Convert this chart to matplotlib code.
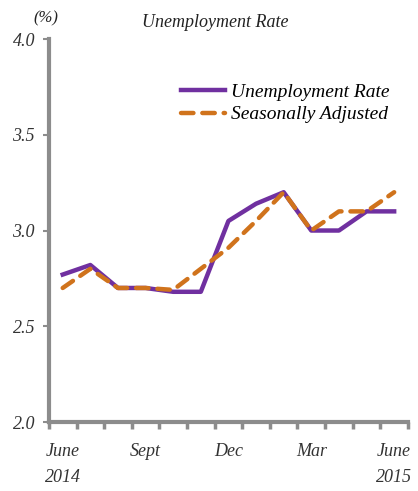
import numpy as np
import matplotlib.pyplot as plt

plt.rcParams['font.family'] = ['Liberation Serif', 'DejaVu Serif']

months = ['June\n2014', 'Jul', 'Aug', 'Sept', 'Oct', 'Nov', 'Dec',
          'Jan', 'Feb', 'Mar', 'Apr', 'May', 'June\n2015']
unemployment = [2.77, 2.82, 2.70, 2.70, 2.68, 2.68, 3.05, 3.14, 3.20, 3.00, 3.00, 3.10, 3.10]
seasonal_adj = [2.70, 2.80, 2.70, 2.70, 2.69, 2.80, 2.91, 3.05, 3.20, 3.00, 3.10, 3.10, 3.20]
label_idx = [0, 3, 6, 9, 12]

purple = '#7030A0'
orange = '#D0731C'
grey = '#8C8C8C'

fig = plt.figure(figsize=(4.18, 4.91), dpi=100)
ax = fig.add_axes([0.117, 0.1405, 0.859, 0.78])

x = np.arange(len(months))
ax.plot(x, unemployment, color=purple, lw=3.2, label='Unemployment Rate',
        solid_joinstyle='round')
ax.plot(x, seasonal_adj, color=orange, lw=3.2, ls=(0, (2.8, 2.0)),
        label='Seasonally Adjusted', dash_capstyle='round')

ax.set_xlim(-0.5, len(months) - 0.5)
ax.set_ylim(2.0, 4.0)
ax.set_yticks([2.0, 2.5, 3.0, 3.5, 4.0])
ax.set_yticklabels(['2.0', '2.5', '3.0', '3.5', '4.0'], fontstyle='italic',
                   fontsize=13, color='#333333')

# ticks at category boundaries, labels centred under categories
ax.set_xticks(np.arange(len(months) + 1) - 0.5)
ax.set_xticklabels([])
ax.set_xticks(label_idx, minor=True)
ax.set_xticklabels([months[i] for i in label_idx], minor=True,
                   fontstyle='italic', fontsize=13, color='#333333',
                   linespacing=1.7)
ax.tick_params(axis='x', which='minor', length=0, pad=15)
ax.tick_params(axis='x', which='major', length=5, width=2.5, color=grey)
ax.tick_params(axis='y', length=4, width=1.5, color=grey, pad=6)

for s in ['top', 'right']:
    ax.spines[s].set_visible(False)
for s in ['left', 'bottom']:
    ax.spines[s].set_color(grey)
    ax.spines[s].set_linewidth(3)

fig.text(0.515, 0.955, 'Unemployment Rate', ha='center', va='center',
         fontstyle='italic', fontsize=13, color='#222222')
fig.text(0.08, 0.962, '(%)', ha='left', va='center',
         fontstyle='italic', fontsize=12, color='#222222')

ax.legend(loc='upper left', bbox_to_anchor=(0.34, 0.91), frameon=False,
          prop={'style': 'italic', 'size': 14}, handlelength=2.3,
          handletextpad=0.3, labelspacing=0.25, borderpad=0)

fig.savefig('out.png', dpi=100)
